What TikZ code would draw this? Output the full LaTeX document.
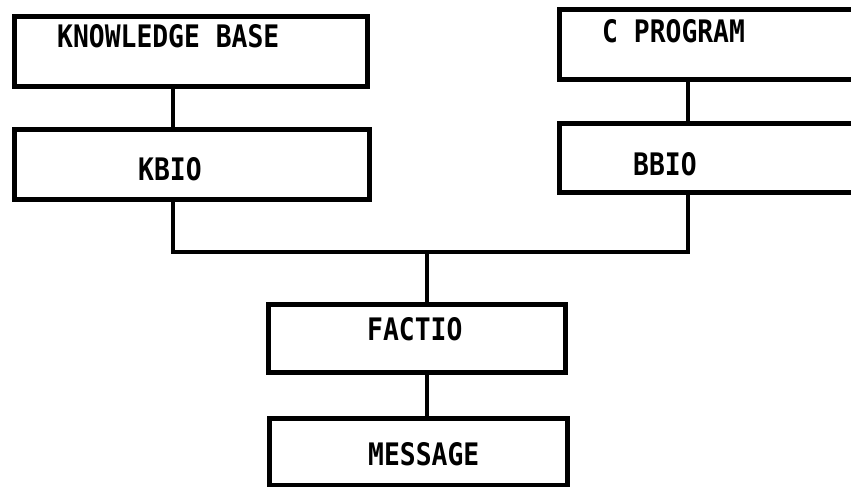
\documentclass[tikz,border=0pt]{standalone}
\usepackage{fontspec}
\newfontfamily\labelfont[FakeStretch=0.85]{DejaVu Sans Mono Bold}
\begin{document}
\begin{tikzpicture}[x=1pt,y=-1pt,
  block/.style={draw=black, line width=5pt, rectangle, inner sep=0pt},
  wire/.style={draw=black, line width=3.5pt},
  lbl/.style={anchor=base west, inner sep=0pt, font=\labelfont\fontsize{31}{31}\selectfont}]
  \useasboundingbox (0,0) rectangle (851,487);
  \clip (0,0) rectangle (851,487);

  % boxes
  \node[block, minimum width=353pt, minimum height=69pt] (kb)     at (190.5,51.5) {};
  \node[block, minimum width=355pt, minimum height=70pt] (kbio)   at (191.5,164) {};
  \node[block, minimum width=321pt, minimum height=69pt] (cprog)  at (719.5,44.5) {};
  \node[block, minimum width=321pt, minimum height=69pt] (bbio)   at (719.5,157.5) {};
  \node[block, minimum width=297pt, minimum height=68pt] (factio) at (416.5,338) {};
  \node[block, minimum width=298pt, minimum height=67pt] (msg)    at (418,451.5) {};

  % labels
  \node[lbl] (tkb)     at (57,48)  {KNOWLEDGE BASE};
  \node[lbl] (tcprog)  at (602,43) {C PROGRAM};
  \node[lbl] (tkbio)   at (138,180) {KBIO};
  \node[lbl] (tbbio)   at (633,175) {BBIO};
  \node[lbl] (tfactio) at (367,340) {FACTIO};
  \node[lbl] (tmsg)    at (368,465) {MESSAGE};

  % junction points
  \coordinate (busL) at (173,252);
  \coordinate (busR) at (688,252);
  \coordinate (busM) at (427,252);

  % connectors
  \draw[wire] (kb.south -| busL) -- (kbio.north -| busL);
  \draw[wire] (cprog.south -| busR) -- (bbio.north -| busR);
  \draw[wire] (kbio.south -| busL) -- (busL) -- (busR) -- (bbio.south -| busR);
  \draw[wire] (busM) -- (factio.north -| busM);
  \draw[wire] (factio.south -| busM) -- (msg.north -| busM);
\end{tikzpicture}
\end{document}
